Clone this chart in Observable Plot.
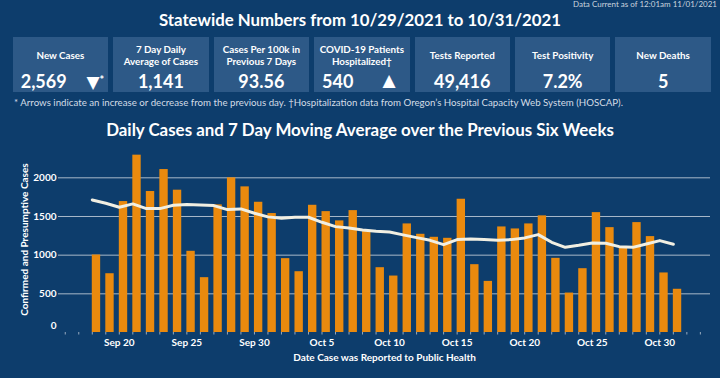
<!DOCTYPE html>
<html>
<head>
<meta charset="utf-8">
<script src="https://cdn.jsdelivr.net/npm/d3@7"></script>
<script src="https://cdn.jsdelivr.net/npm/@observablehq/plot@0.6"></script>
<style>
  html, body { margin: 0; padding: 0; }
  body { width: 720px; height: 378px; background: #0d3d6c; position: relative; overflow: hidden; font-family: Lato, "Open Sans", sans-serif; color: #fff; }
  .abs { position: absolute; }
  #asof { right: 3px; top: -1px; font-size: 8px; color: #c9d4df; }
  #title { left: 0; width: 720px; top: 9px; text-align: center; font-size: 16.8px; font-weight: 700; }
  .box { position: absolute; top: 37px; height: 55px; width: 95.5px; background: #2d5987; }
  .lab { position: absolute; left: 0; right: 0; top: 0; height: 36px; display: flex; align-items: center; justify-content: center; text-align: center; font-size: 9.8px; font-weight: 700; line-height: 12.5px; }
  .val { position: absolute; left: 0; right: 0; top: 33px; text-align: center; font-size: 18px; font-weight: 700; line-height: 22px; }
  .val.left { text-align: left; padding-left: 8px; }
  .arrow { position: absolute; top: 32px; font-size: 17px; font-weight: 700; line-height: 22px; font-family: "DejaVu Sans", sans-serif; }
  .arrow sup { font-size: 11px; vertical-align: 4px; font-family: Lato, sans-serif; }
  #note { left: 14px; top: 96px; font-size: 9.7px; color: #d3dce6; white-space: nowrap; }
  #ctitle { left: 0; width: 720px; top: 118.5px; text-align: center; font-size: 16.9px; font-weight: 700; }
  #chart { position: absolute; left: 0; top: 140px; }
</style>
</head>
<body>
<div class="abs" id="asof"></div>
<div class="abs" id="title"></div>
<div id="boxes"></div>
<div class="abs" id="note"></div>
<div class="abs" id="ctitle"></div>
<div id="chart"></div>
<script>
// ---- Data ----
const asOfText = "Data Current as of 12:01am 11/01/2021";
const titleText = "Statewide Numbers from 10/29/2021 to 10/31/2021";
const statLabels = ["New Cases", "7 Day Daily<br>Average of Cases", "Cases Per 100k in<br>Previous 7 Days", "COVID-19 Patients<br>Hospitalized\u2020", "Tests Reported", "Test Positivity", "New Deaths"];
const statValues = ["2,569", "1,141", "93.56", "540", "49,416", "7.2%", "5"];
const statArrows = ["\u25BC", "", "", "\u25B2", "", "", ""];
const statMarks = ["*", "", "", "", "", "", ""];
const noteText = "* Arrows indicate an increase or decrease from the previous day. \u2020Hospitalization data from Oregon\u2019s Hospital Capacity Web System (HOSCAP).";
const chartTitle = "Daily Cases and 7 Day Moving Average over the Previous Six Weeks";
const yLabel = "Confirmed and Presumptive Cases";
const xLabel = "Date Case was Reported to Public Health";

const dates = [
  "2021-09-18","2021-09-19","2021-09-20","2021-09-21","2021-09-22","2021-09-23","2021-09-24","2021-09-25","2021-09-26","2021-09-27",
  "2021-09-28","2021-09-29","2021-09-30","2021-10-01","2021-10-02","2021-10-03","2021-10-04","2021-10-05","2021-10-06","2021-10-07",
  "2021-10-08","2021-10-09","2021-10-10","2021-10-11","2021-10-12","2021-10-13","2021-10-14","2021-10-15","2021-10-16","2021-10-17",
  "2021-10-18","2021-10-19","2021-10-20","2021-10-21","2021-10-22","2021-10-23","2021-10-24","2021-10-25","2021-10-26","2021-10-27",
  "2021-10-28","2021-10-29","2021-10-30","2021-10-31"
];
const dailyCases = [
  1002, 760, 1693, 2293, 1823, 2107, 1840, 1050, 709, 1650,
  2000, 1883, 1684, 1538, 955, 786, 1645, 1563, 1443, 1576,
  1320, 838, 730, 1404, 1270, 1231, 1218, 1723, 877, 661,
  1365, 1339, 1404, 1508, 959, 510, 825, 1550, 1356, 1101,
  1421, 1240, 770, 559
];
const movingAvg = [
  1714, 1671, 1619, 1663, 1602, 1602, 1645, 1654, 1650, 1641,
  1589, 1598, 1542, 1495, 1477, 1490, 1490, 1425, 1369, 1352,
  1326, 1308, 1300, 1262, 1227, 1192, 1136, 1201, 1209, 1201,
  1192, 1201, 1223, 1266, 1166, 1101, 1127, 1158, 1153, 1110,
  1101, 1145, 1188, 1141
];
const yTicks = [500, 1000, 1500, 2000];
const xTickDates = ["2021-09-20","2021-09-25","2021-09-30","2021-10-05","2021-10-10","2021-10-15","2021-10-20","2021-10-25","2021-10-30"];
const xDomain = ["2021-09-15T12:00Z", "2021-11-02T18:00Z"];

// ---- Header ----
document.getElementById("asof").textContent = asOfText;
document.getElementById("title").textContent = titleText;
document.getElementById("note").textContent = noteText;
document.getElementById("ctitle").textContent = chartTitle;
const boxes = document.getElementById("boxes");
statLabels.forEach((lab, i) => {
  const b = document.createElement("div");
  b.className = "box";
  b.style.left = (12.7 + i * 100.45) + "px";
  const arrow = statArrows[i];
  b.innerHTML = `<div class="lab">${lab}</div>` +
    `<div class="val${arrow ? " left" : ""}">${statValues[i]}</div>` +
    (arrow ? `<div class="arrow" style="right:${statMarks[i] ? 4 : 14}px">${arrow}${statMarks[i] ? `<sup>${statMarks[i]}</sup>` : ""}</div>` : "");
  boxes.appendChild(b);
});

// ---- Chart ----
const parse = d3.utcParse("%Y-%m-%d");
const table = dates.map((d, i) => ({date: parse(d), cases: dailyCases[i], avg: movingAvg[i]}));
const dayMs = 864e5;
const allDays = d3.utcDay.range(new Date(xDomain[0]), new Date(xDomain[1]));

const chart = Plot.plot({
  width: 720,
  height: 238,
  marginLeft: 58,
  marginRight: 10,
  marginTop: 6,
  marginBottom: 46,
  style: {background: "transparent", color: "#fff", fontFamily: "Lato, 'Open Sans', sans-serif"},
  x: {type: "utc", domain: xDomain.map(d => new Date(d))},
  y: {domain: [0, 2405]},
  marks: [
    Plot.gridY(yTicks, {stroke: "#c3cfdb", strokeOpacity: 0.85, strokeWidth: 1}),
    Plot.rectY(table, {x1: "date", x2: d => new Date(+d.date + 0.62 * dayMs), y: "cases", fill: "#ea8a0e"}),
    Plot.lineY(table, {x: "date", y: "avg", stroke: "#f1efe2", strokeWidth: 3, strokeLinejoin: "round"}),
    Plot.axisX({ticks: allDays, tickSize: 2.5, tickFormat: () => "", stroke: "#b9c6d4", strokeOpacity: 0.8}),
    Plot.axisX({ticks: xTickDates.map(parse), tickSize: 0, tickPadding: 6, tickFormat: d3.utcFormat("%b %-d"), fontSize: 10, fontWeight: 700, label: null}),
    Plot.axisY({ticks: yTicks, tickSize: 0, tickPadding: 2, tickFormat: d => String(d), fontSize: 10, fontWeight: 700, label: null}),
    Plot.axisY({ticks: [0], tickSize: 0, tickPadding: 2, dy: -7, tickFormat: d => String(d), fontSize: 10, fontWeight: 700, label: null}),
    Plot.text([yLabel], {frameAnchor: "left", rotate: -90, dx: -34, textAnchor: "middle", fontSize: 10, fontWeight: 700, fill: "#fff"}),
    Plot.text([xLabel], {frameAnchor: "bottom", dy: 28.5, fontSize: 10, fontWeight: 700, fill: "#fff"})
  ]
});
document.getElementById("chart").appendChild(chart);
</script>
</body>
</html>
